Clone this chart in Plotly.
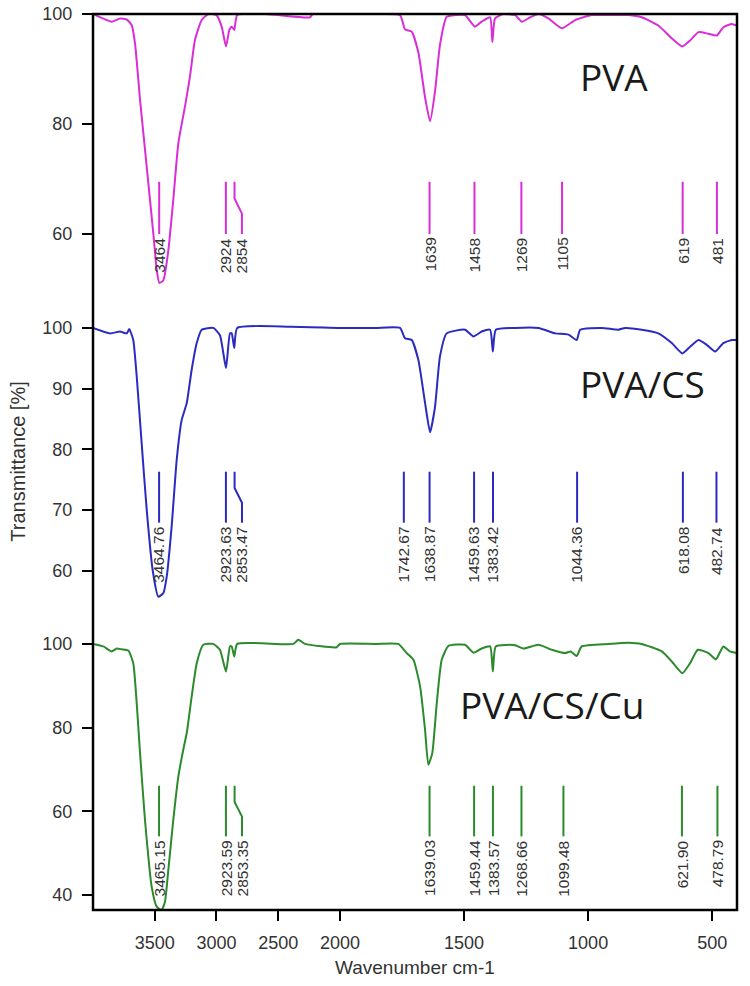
import plotly.graph_objects as go

# ---------------- data ----------------
pva_wn = [4000, 3849, 3781, 3727, 3687, 3660, 3619, 3565, 3512, 3484, 3463, 3430, 3390, 3350, 3309,
          3255, 3215, 3174, 3120, 3066, 3000, 2958, 2923, 2896, 2877, 2856, 2832, 2600, 2243, 2220,
          2000, 1859, 1758, 1738, 1711, 1684, 1657, 1637, 1617, 1597, 1570, 1536, 1496, 1456, 1429,
          1395, 1386, 1375, 1342, 1294, 1267, 1234, 1200, 1160, 1106, 1052, 985, 918, 837, 784,
          717, 663, 620, 589, 555, 515, 481, 455, 421, 400]
pva_t = [100, 98.6, 99.2, 99.0, 98.0, 94.7, 84.4, 72.2, 60.2, 53.5, 51.1, 51.6, 57.0, 66.2, 76.5,
         83.2, 88.6, 95.3, 98.9, 100, 99.8, 97.7, 94.1, 97.1, 97.7, 97.1, 99.8, 100, 99.4, 100,
         100, 100, 99.8, 97.2, 96.8, 93.0, 84.8, 80.5, 85.9, 94.4, 99.5, 99.8, 99.8, 97.7, 98.6,
         99.4, 94.9, 99.2, 100, 99.8, 98.6, 99.4, 100, 99.2, 97.4, 98.9, 99.8, 99.8, 99.8, 99.4,
         97.9, 95.6, 94.1, 95.2, 96.7, 96.4, 96.1, 97.6, 98.2, 97.9]

cs_wn = [4000, 3862, 3781, 3727, 3706, 3674, 3646, 3606, 3565, 3517, 3471, 3430, 3403, 3363, 3322,
         3282, 3241, 3201, 3160, 3120, 3026, 2972, 2923, 2891, 2877, 2856, 2832, 2400, 2000,
         1859, 1758, 1738, 1711, 1684, 1657, 1637, 1617, 1597, 1570, 1496, 1462, 1429, 1395, 1384,
         1372, 1294, 1200, 1133, 1079, 1046, 1032, 944, 878, 851, 784, 717, 663, 620, 589, 555,
         522, 488, 455, 421, 400]
cs_t = [100, 99.1, 99.4, 99.1, 99.8, 98.0, 92.0, 81.0, 70.0, 60.1, 55.7, 56.3, 59.0, 67.3, 78.3,
        84.8, 87.6, 93.1, 97.5, 99.7, 100, 98.8, 93.4, 99.1, 99.1, 96.7, 100, 100.2, 100,
        100, 100, 98.3, 98.0, 94.7, 87.6, 82.8, 87.0, 95.3, 99.1, 99.7, 98.6, 99.4, 99.7, 96.1,
        99.7, 100, 100, 99.1, 98.9, 98.0, 99.7, 100, 99.7, 100, 99.7, 99.1, 97.5, 95.8, 96.9, 98.0,
        97.2, 96.1, 97.5, 98.0, 98.0]

cu_wn = [4000, 3916, 3849, 3808, 3768, 3714, 3674, 3646, 3619, 3579, 3525, 3484, 3444, 3417, 3390,
         3350, 3309, 3269, 3241, 3201, 3160, 3107, 3026, 2972, 2923, 2891, 2877, 2856, 2832, 2378,
         2338, 2283, 2027, 2000, 1859, 1765, 1731, 1704, 1677, 1657, 1644, 1628, 1610, 1590, 1563,
         1496, 1462, 1429, 1395, 1384, 1372, 1294, 1261, 1200, 1146, 1093, 1070, 1046, 1026, 918,
         837, 784, 703, 663, 620, 589, 558, 515, 485, 455, 429, 400]
cu_t = [100, 99.4, 98.2, 98.9, 98.7, 98.4, 95.4, 85.8, 73.9, 57.9, 42.0, 37.2, 36.4, 38.4, 46.0,
        57.9, 68.3, 74.7, 78.7, 87.4, 95.4, 99.8, 100, 98.6, 93.4, 99.4, 99.4, 97.0, 100, 100,
        101.0, 100, 99.2, 100, 100, 100, 97.8, 96.2, 89.8, 79.4, 71.1, 73.9, 85.8, 96.2, 99.5,
        99.8, 97.9, 98.9, 99.4, 93.4, 99.4, 99.7, 98.9, 99.8, 98.6, 97.8, 98.2, 97.1, 99.4, 100,
        100.3, 100, 98.2, 95.8, 93.0, 95.4, 98.6, 97.8, 96.3, 99.4, 98.2, 97.8]

pva_peaks = ["3464", "2924", "2854", "1639", "1458", "1269", "1105", "619", "481"]
cs_peaks = ["3464.76", "2923.63", "2853.47", "1742.67", "1638.87", "1459.63", "1383.42",
            "1044.36", "618.08", "482.74"]
cu_peaks = ["3465.15", "2923.59", "2853.35", "1639.03", "1459.44", "1383.57", "1268.66",
            "1099.48", "621.90", "478.79"]

panel_names = ["PVA", "PVA/CS", "PVA/CS/Cu"]
x_ticks_left = [3500, 3000, 2500, 2000]
x_ticks_right = [1500, 1000, 500]
y_ticks = [[60, 80, 100], [60, 70, 80, 90, 100], [40, 60, 80, 100]]

# ---------------- styling ----------------
colors = ["#d82ed8", "#2b2bbf", "#2b8a2b"]
y_ranges = [[48, 100], [53.5, 104.6], [36.4, 108.1]]
y_domains = [[0.6808, 1.0], [0.3348, 0.6808], [0.0, 0.3348]]
marker_span = [(69.5, 60.0), (76.3, 67.9), (66.1, 54.0)]   # top/bottom of peak marks
name_pos = [(1040, 88.7), (1040, 90.8), (1524, 85.4)]
kink_shift = 60       # label offset (cm-1) of the crowded 2853 mark
split = 0.3835        # paper fraction where the x scale changes

spectra = [(pva_wn, pva_t), (cs_wn, cs_t), (cu_wn, cu_t)]
peaks = [pva_peaks, cs_peaks, cu_peaks]

fig = go.Figure()
annotations = []
for i in range(3):
    yname = "y" if i == 0 else f"y{i+1}"
    wn, tr = spectra[i]
    for xa in ["x", "x2"]:
        fig.add_trace(go.Scatter(x=wn, y=tr, xaxis=xa, yaxis=yname, mode="lines",
                                 line=dict(color=colors[i], width=2, shape="spline", smoothing=0.5),
                                 showlegend=False, hoverinfo="skip"))
    top, bot = marker_span[i]
    mx, my = [], []
    for lab in peaks[i]:
        p = float(lab)
        if 2800 < p < 2900:
            xs = [p, p, p - kink_shift, p - kink_shift]
            ys = [top, top - 0.32 * (top - bot), top - 0.61 * (top - bot), bot]
            lx = p - kink_shift
        else:
            xs = [p, p]
            ys = [top, bot]
            lx = p
        mx += xs + [None]
        my += ys + [None]
        annotations.append(dict(x=lx, y=bot, xref="x" if lx >= 2000 else "x2", yref=yname,
                                text=lab, textangle=-90, showarrow=False, xanchor="center",
                                yanchor="top", yshift=-2,
                                font=dict(family="Liberation Sans, Arial", size=15.5, color="#333333")))
    for xa in ["x", "x2"]:
        fig.add_trace(go.Scatter(x=mx, y=my, xaxis=xa, yaxis=yname, mode="lines",
                                 line=dict(color=colors[i], width=2), showlegend=False,
                                 hoverinfo="skip"))
    nx, ny = name_pos[i]
    annotations.append(dict(x=nx, y=ny, xref="x2", yref=yname, text=panel_names[i],
                            showarrow=False, xanchor="left", yanchor="middle",
                            font=dict(family="Open Sans", size=37, color="#1a1a1a")))

annotations.append(dict(x=0.5, y=-0.05, xref="paper", yref="paper", text="Wavenumber cm-1",
                        showarrow=False, xanchor="center", yanchor="top",
                        font=dict(family="Liberation Sans, Arial", size=19, color="#333333")))
annotations.append(dict(x=-0.117, y=0.5, xref="paper", yref="paper", text="Transmittance [%]",
                        showarrow=False, xanchor="center", yanchor="middle", textangle=-90,
                        font=dict(family="Liberation Sans, Arial", size=20, color="#333333")))

tickfont = dict(family="Liberation Sans, Arial", size=18, color="#333333")
xcommon = dict(showgrid=False, zeroline=False, showline=False, ticks="outside", ticklen=10,
               tickwidth=2, tickcolor="black", tickfont=tickfont, anchor="y3", automargin=False,
               ticklabelstandoff=6)
layout = dict(
    width=750, height=986, plot_bgcolor="white", paper_bgcolor="white",
    margin=dict(l=93, r=13, t=14, b=76, autoexpand=False),
    xaxis=dict(domain=[0, split], range=[4000, 2000], tickvals=x_ticks_left, **xcommon),
    xaxis2=dict(domain=[split, 1], range=[2000, 400], tickvals=x_ticks_right, **xcommon),
    annotations=annotations,
    shapes=[dict(type="rect", xref="paper", yref="paper", x0=0, x1=1, y0=0, y1=1,
                 line=dict(color="black", width=2.5), layer="above")],
)
for i in range(3):
    key = "yaxis" if i == 0 else f"yaxis{i+1}"
    layout[key] = dict(domain=y_domains[i], range=y_ranges[i], tickvals=y_ticks[i],
                       showgrid=False, zeroline=False, showline=False, ticks="outside",
                       ticklen=10, tickwidth=2, tickcolor="black", tickfont=tickfont,
                       anchor="x", ticklabelstandoff=6, automargin=False)
fig.update_layout(**layout)
fig.write_html("out.html", config={"displayModeBar": False},
               post_script="document.body.style.margin='0px';document.body.style.overflow='hidden';")
